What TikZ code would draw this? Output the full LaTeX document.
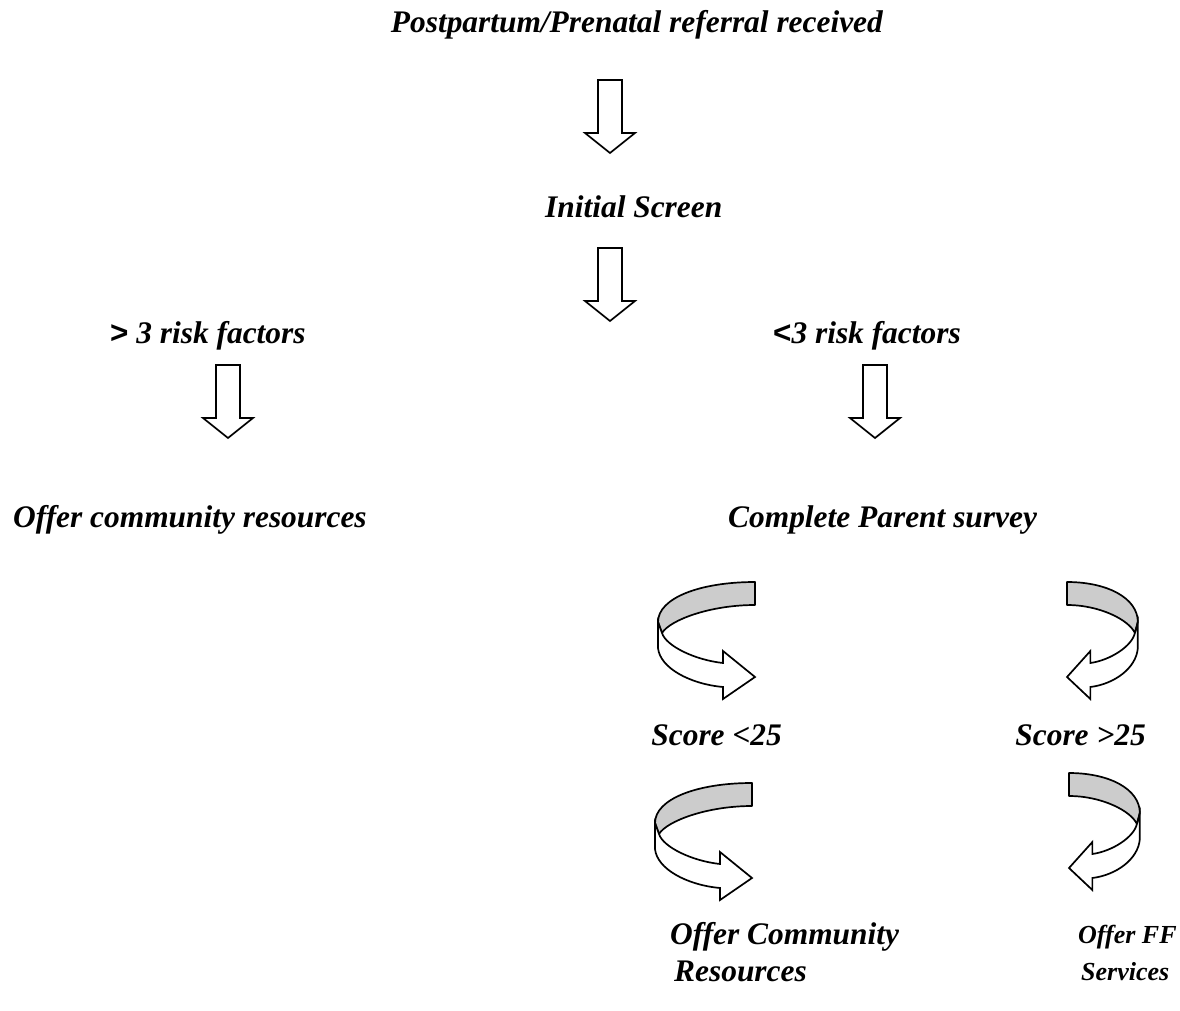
\documentclass[tikz,border=0pt]{standalone}
\usepackage{fontspec}
\setmainfont{Liberation Serif}
\newfontfamily\sansb{Liberation Sans}
\newcommand\blockdown[3]{%
  \begin{scope}[shift={(#2,#3)}]
    \coordinate (#1) at (0,0);
    \draw[blockarrow] (-12,0) -- (12,0) -- (12,53) -- (25,53) -- (0,73) -- (-25,53) -- (-12,53) -- cycle;
  \end{scope}}
\newcommand\curvarrow[4]{%
  \begin{scope}[shift={(#2,#3)}, xscale=#4]
    \coordinate (#1) at (0,0);
    \draw[ribbonback] (0,12) .. controls (-55,12) and (-97,28) .. (-97,52) -- (-93,63)
      .. controls (-85,50) and (-45,35) .. (0,35) -- cycle;
    \draw[ribbonfront] (-97,52) -- (-97,78) .. controls (-95,98) and (-65,114) .. (-32,117)
      -- (-32,129) -- (0,107) -- (-32,81) -- (-32,93)
      .. controls (-60,90) and (-89,76) .. (-93,63) -- cycle;
  \end{scope}}
\begin{document}
\begin{tikzpicture}[x=1pt,y=-1pt,
  lbl/.style={font=\fontsize{31.4}{37}\selectfont\bfseries\itshape, inner sep=0pt},
  lblsmall/.style={font=\fontsize{26}{37}\selectfont\bfseries\itshape, inner sep=0pt},
  blockarrow/.style={draw=black, fill=white, line width=1.7pt, line join=miter},
  ribbonback/.style={draw=black, fill=gray!40, line width=1.7pt, line join=round},
  ribbonfront/.style={draw=black, fill=white, line width=1.7pt, line join=miter}]
\useasboundingbox (0,0) rectangle (1180,1011);
\fill[white] (0,0) rectangle (1180,1011);

\node[lbl, anchor=base east] (ref) at (883,33) {Postpartum/Prenatal referral received};
\node[lbl, anchor=base west] (init) at (545,218) {Initial Screen};
\node[lbl, anchor=base west] (gt) at (110,343) {{\sansb\bfseries\upshape >} 3 risk factors};
\node[lbl, anchor=base west] (lt) at (773,343) {{\sansb\bfseries\upshape <}3 risk factors};
\node[lbl, anchor=base west] (comm) at (13,527) {Offer community resources};
\node[lbl, anchor=base west] (survey) at (728,527) {Complete Parent survey};
\node[lbl, anchor=base east] (slow) at (782,745) {Score <25};
\node[lbl, anchor=base east] (shigh) at (1146,745) {Score >25};
\node[lbl, anchor=north west, align=left] (ocr) at (670,922) {Offer Community\\\hspace*{4pt}Resources};
\node[lblsmall, anchor=north west, align=left] (off) at (1078,925) {Offer FF\\\hspace*{3pt}Services};

\blockdown{a1}{610}{80}
\blockdown{a2}{610}{248}
\blockdown{a3}{228}{365}
\blockdown{a4}{875}{365}

\curvarrow{c1}{755}{570}{1}
\curvarrow{c2}{1067}{570}{-0.73}
\curvarrow{c3}{752}{771}{1}
\curvarrow{c4}{1069}{761}{-0.73}
\end{tikzpicture}
\end{document}
